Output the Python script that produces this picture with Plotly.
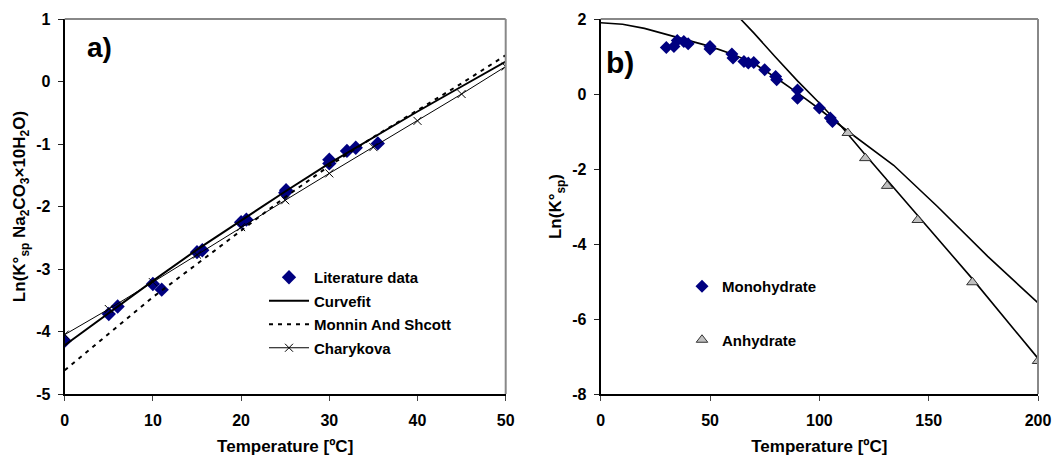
import plotly.graph_objects as go

# ---- panel a) : decahydrate ----
lit_T = [0, 5, 6, 10, 11, 15, 15.6, 20, 20.6, 25, 25.1, 30, 30, 32, 33, 35.5]
lit_lnK = [-4.15, -3.72, -3.60, -3.24, -3.33, -2.73, -2.70, -2.25, -2.21,
           -1.78, -1.74, -1.25, -1.31, -1.11, -1.06, -0.99]

model_T = [0, 5, 10, 15, 20, 25, 30, 35, 40, 45, 50]
curvefit = [-4.22, -3.70, -3.19, -2.69, -2.22, -1.76, -1.31, -0.89, -0.48, -0.08, 0.32]
monnin = [-4.62, -4.04, -3.45, -2.92, -2.38, -1.85, -1.35, -0.89, -0.46, -0.03, 0.42]
charykova = [-4.05, -3.64, -3.21, -2.77, -2.33, -1.90, -1.47, -1.05, -0.63, -0.20, 0.24]

a_xticks = [0, 10, 20, 30, 40, 50]
a_yticks = [-5, -4, -3, -2, -1, 0, 1]

# ---- panel b) : monohydrate / anhydrate ----
mono_T = [30, 33.5, 35, 38, 40, 50, 50, 60, 60.5, 65.5, 67.5, 70, 75, 80, 80.5,
          90, 90, 100, 105, 106]
mono_lnK = [1.24, 1.27, 1.43, 1.40, 1.34, 1.27, 1.20, 1.07, 0.96, 0.87, 0.83, 0.84,
            0.65, 0.47, 0.38, 0.11, -0.11, -0.37, -0.64, -0.73]

anhy_T = [113, 121, 131, 145, 170, 200]
anhy_lnK = [-1.04, -1.71, -2.45, -3.36, -5.02, -7.12]

mono_fit_T = [0, 10, 20, 30, 40, 50, 60, 70, 80, 90, 100, 110, 120, 134, 154, 177, 200]
mono_fit = [1.90, 1.86, 1.75, 1.58, 1.43, 1.27, 1.07, 0.82, 0.44, 0.03, -0.40,
            -0.86, -1.30, -1.90, -3.00, -4.33, -5.57]

anhy_fit_T = [62, 70, 80, 90, 100, 110, 121, 131, 145, 170, 200]
anhy_fit = [2.12, 1.63, 0.98, 0.35, -0.24, -0.86, -1.62, -2.30, -3.24, -4.93, -7.05]

b_xticks = [0, 50, 100, 150, 200]
b_yticks = [-8, -6, -4, -2, 0, 2]

FONT = "Liberation Sans, Arial, sans-serif"
NAVY = "#000080"

fig = go.Figure()

# panel a traces
fig.add_trace(go.Scatter(x=lit_T, y=lit_lnK, mode="markers", name="Literature data",
                         marker=dict(symbol="diamond", size=11, color=NAVY),
                         xaxis="x", yaxis="y", legend="legend", legendgroup="a1"))
fig.add_trace(go.Scatter(x=model_T, y=curvefit, mode="lines", name="Curvefit",
                         line=dict(color="black", width=2),
                         xaxis="x", yaxis="y", legend="legend", legendgroup="a2"))
fig.add_trace(go.Scatter(x=model_T, y=monnin, mode="lines", name="Monnin And Shcott",
                         line=dict(color="black", width=2, dash="4px,5px"),
                         xaxis="x", yaxis="y", legend="legend", legendgroup="a3"))
fig.add_trace(go.Scatter(x=model_T, y=charykova, mode="lines+markers", name="Charykova",
                         line=dict(color="black", width=1),
                         marker=dict(symbol="x-thin", size=8, color="black",
                                     line=dict(color="black", width=1)),
                         xaxis="x", yaxis="y", legend="legend", legendgroup="a4"))

# panel b traces
fig.add_trace(go.Scatter(x=mono_fit_T, y=mono_fit, mode="lines", showlegend=False,
                         line=dict(color="black", width=1.6), xaxis="x2", yaxis="y2"))
fig.add_trace(go.Scatter(x=anhy_fit_T, y=anhy_fit, mode="lines", showlegend=False,
                         line=dict(color="black", width=1.6), xaxis="x2", yaxis="y2"))
fig.add_trace(go.Scatter(x=mono_T, y=mono_lnK, mode="markers", name="Monohydrate",
                         marker=dict(symbol="diamond", size=10, color=NAVY),
                         xaxis="x2", yaxis="y2", legend="legend2", legendgroup="b1"))
fig.add_trace(go.Scatter(x=anhy_T, y=anhy_lnK, mode="markers", name="Anhydrate",
                         marker=dict(symbol="triangle-up", size=10, color="#C0C0C0",
                                     line=dict(color="#333333", width=1)),
                         xaxis="x2", yaxis="y2", legend="legend2", legendgroup="b2"))

tickfont = dict(family=FONT, size=16, color="black", weight="bold")
titlefont = dict(family=FONT, size=17, color="black", weight="bold")

common_x = dict(showgrid=False, zeroline=False, showline=True, linecolor="black",
                linewidth=2, ticks="outside", ticklen=5, tickcolor="#444",
                tickfont=tickfont, automargin=False, ticklabelstandoff=6)
common_y = dict(showgrid=False, zeroline=False, showline=True, linecolor="black",
                linewidth=2, ticks="outside", ticklen=5, tickcolor="#222",
                tickfont=tickfont, automargin=False, ticklabelstandoff=4)


def labels(vals):
    return [str(v) for v in vals]


fig.update_layout(
    width=1056, height=456,
    margin=dict(l=0, r=0, t=19, b=62),
    paper_bgcolor="white", plot_bgcolor="white",
    font=dict(family=FONT, color="black"),
    xaxis=dict(domain=[64.7 / 1056, 505.7 / 1056], range=[0, 50],
               tickvals=a_xticks, ticktext=labels(a_xticks), anchor="y",
               title=dict(text="Temperature [ºC]", font=titlefont, standoff=13),
               **common_x),
    yaxis=dict(domain=[0, 1], range=[-5, 1], tickvals=a_yticks, ticktext=labels(a_yticks),
               anchor="x",
               title=dict(text="Ln(K°<sub>sp</sub> Na<sub>2</sub>CO<sub>3</sub>×10H<sub>2</sub>O)",
                          font=titlefont, standoff=6),
               **common_y),
    xaxis2=dict(domain=[600.7 / 1056, 1038 / 1056], range=[0, 200],
                tickvals=b_xticks, ticktext=labels(b_xticks), anchor="y2",
                title=dict(text="Temperature [ºC]", font=titlefont, standoff=13),
                **common_x),
    yaxis2=dict(domain=[0, 1], range=[-8, 2], tickvals=b_yticks, ticktext=labels(b_yticks),
                anchor="x2",
                title=dict(text="Ln(K°<sub>sp</sub>)", font=titlefont, standoff=6),
                **common_y),
    legend=dict(x=264 / 1056, xanchor="left", y=(394 - 261) / 375, yanchor="top",
                bgcolor="rgba(0,0,0,0)", font=dict(family=FONT, size=15, weight="bold"),
                itemwidth=40, traceorder="grouped", tracegroupgap=1),
    legend2=dict(x=682 / 1056, xanchor="left", y=(394 - 270) / 375, yanchor="top",
                 bgcolor="rgba(0,0,0,0)", font=dict(family=FONT, size=15, weight="bold"),
                 itemwidth=30, traceorder="grouped", tracegroupgap=31),
    showlegend=True,
)

# grey top and right frame lines
for xr, yr in (("x domain", "y domain"), ("x2 domain", "y2 domain")):
    fig.add_shape(type="line", xref=xr, yref=yr, x0=0, x1=1, y0=1, y1=1,
                  line=dict(color="#888888", width=2))
    fig.add_shape(type="line", xref=xr, yref=yr, x0=1, x1=1, y0=0, y1=1,
                  line=dict(color="#888888", width=2))

# panel labels
fig.add_annotation(text="a)", xref="x domain", yref="y domain", x=0.045, y=0.925,
                   xanchor="left", yanchor="middle", showarrow=False,
                   font=dict(family=FONT, size=28, weight="bold", color="black"))
fig.add_annotation(text="b)", xref="x2 domain", yref="y2 domain", x=0.008, y=0.885,
                   xanchor="left", yanchor="middle", showarrow=False,
                   font=dict(family=FONT, size=30, weight="bold", color="black"))

fig.write_html("out.html")
